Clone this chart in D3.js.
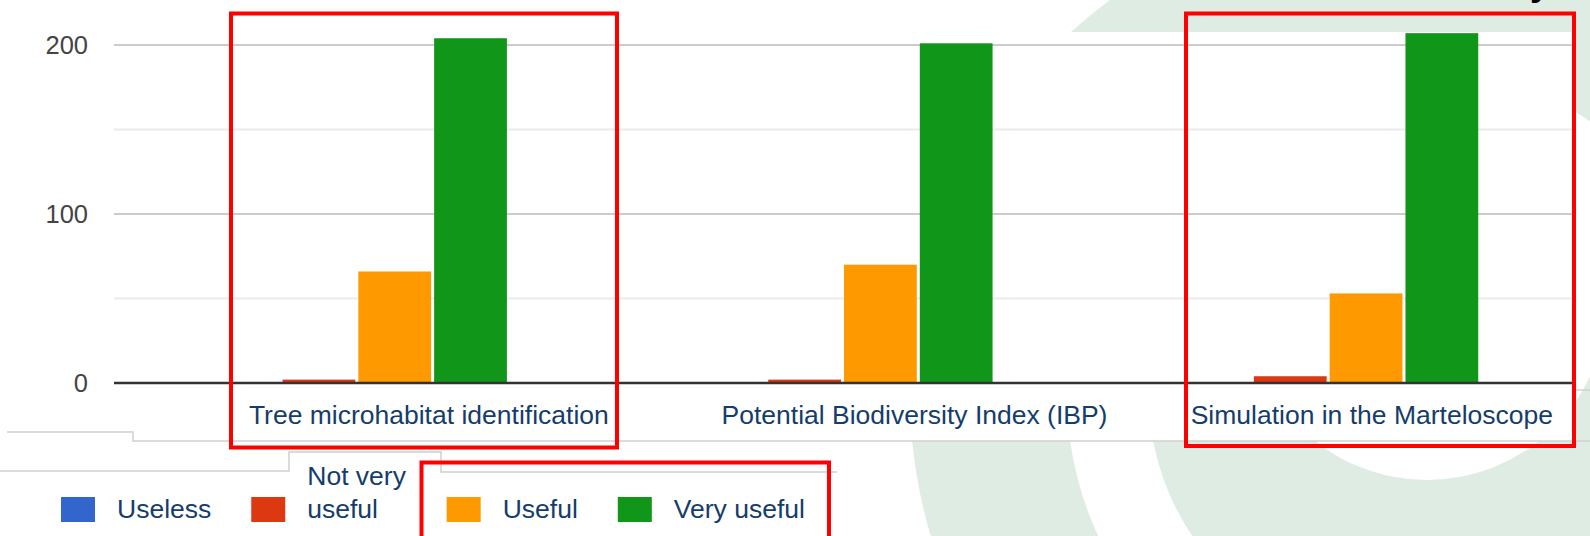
<!DOCTYPE html>
<html>
<head>
<meta charset="utf-8">
<script src="https://cdn.jsdelivr.net/npm/d3@7"></script>
<style>
  html, body { margin: 0; padding: 0; background: #fff; }
  svg { display: block; font-family: "Liberation Sans", Arial, sans-serif; }
</style>
</head>
<body>
<svg id="chart" width="1590" height="536"></svg>
<script>
'use strict';

// data
const categories = ['Tree microhabitat identification', 'Potential Biodiversity Index (IBP)', 'Simulation in the Marteloscope'];
const seriesNames = ['Useless', 'Not very useful', 'Useful', 'Very useful'];
const useless = [0, 0, 0];
const notVeryUseful = [2, 2, 4];
const useful = [66, 70, 53];
const veryUseful = [204, 201, 207];
const yTickLabels = [0, 100, 200];
const minorTicks = [50, 150];

const colors = ['#3366cc', '#dc3912', '#ff9900', '#109618'];
const seriesValues = [useless, notVeryUseful, useful, veryUseful];

const svg = d3.select('#chart');

const plotLeft = 114, plotRight = 1571, plotTop = 45, plotBottom = 383;

// background watermark (slide logo, partly hidden by the chart picture)
const logo = svg.append('g').attr('class', 'logo');
const wm = '#dfece4';
logo.append('circle').attr('cx', 1400).attr('cy', 395).attr('r', 490).attr('fill', wm);
logo.append('circle').attr('cx', 1400).attr('cy', 395).attr('r', 333).attr('fill', '#fff');
logo.append('circle').attr('cx', 1400).attr('cy', 395).attr('r', 251).attr('fill', wm);
logo.append('circle').attr('cx', 1427).attr('cy', 300).attr('r', 180).attr('fill', '#fff');

// the chart picture itself
svg.append('rect')
  .attr('x', 0).attr('y', 32)
  .attr('width', 1573).attr('height', 409)
  .attr('fill', '#fff');

// cut-off title descender at top right
svg.append('text')
  .attr('x', 1530).attr('y', -5)
  .attr('font-size', 36).attr('font-weight', 'bold')
  .attr('fill', '#000')
  .text('y');

const x0 = d3.scaleBand()
  .domain(categories)
  .range([plotLeft, plotRight])
  .paddingInner(0.382)
  .paddingOuter(0.191);

const x1 = d3.scaleBand()
  .domain(seriesNames)
  .range([0, x0.bandwidth()])
  .paddingInner(0.04);

const y = d3.scaleLinear()
  .domain([0, 200])
  .range([plotBottom, plotTop]);

// gridlines
const grid = svg.append('g').attr('class', 'grid');
grid.selectAll('line.minor')
  .data(minorTicks)
  .enter().append('line')
    .attr('class', 'minor')
    .attr('x1', plotLeft).attr('x2', 1573)
    .attr('y1', d => y(d)).attr('y2', d => y(d))
    .attr('stroke', '#ebebeb').attr('stroke-width', 2);
grid.selectAll('line.major')
  .data(yTickLabels.filter(d => d !== 0))
  .enter().append('line')
    .attr('class', 'major')
    .attr('x1', plotLeft).attr('x2', 1573)
    .attr('y1', d => y(d)).attr('y2', d => y(d))
    .attr('stroke', '#cccccc').attr('stroke-width', 2);

// y axis labels
const yAxis = d3.axisLeft(y)
  .tickValues(yTickLabels)
  .tickSize(0)
  .tickPadding(0);
const yAxisG = svg.append('g')
  .attr('transform', 'translate(88,0)')
  .call(yAxis);
yAxisG.select('.domain').remove();
yAxisG.selectAll('text')
  .attr('font-size', 25.5)
  .attr('font-family', '"Liberation Sans", Arial, sans-serif')
  .attr('fill', '#444');

// bars
const groups = svg.append('g').attr('class', 'bars')
  .selectAll('g')
  .data(categories)
  .enter().append('g')
    .attr('transform', d => `translate(${x0(d)},0)`);

groups.selectAll('rect')
  .data((c, i) => seriesNames.map((s, j) => ({ series: s, value: seriesValues[j][i], color: colors[j] })))
  .enter().append('rect')
    .attr('x', d => x1(d.series))
    .attr('width', x1.bandwidth())
    .attr('y', d => y(d.value))
    .attr('height', d => y(0) - y(d.value))
    .attr('fill', d => d.color);

// baseline
svg.append('line')
  .attr('x1', plotLeft).attr('x2', 1573)
  .attr('y1', y(0)).attr('y2', y(0))
  .attr('stroke', '#333').attr('stroke-width', 2.5);

// category labels (shifted right, kept inside the chart)
const catLabels = svg.append('g').attr('class', 'cats')
  .selectAll('text')
  .data(categories)
  .enter().append('text')
    .attr('y', 424)
    .attr('text-anchor', 'middle')
    .attr('font-size', 26.5)
    .attr('fill', '#153d6b')
    .text(d => d);
catLabels.each(function(d) {
  const w = this.getComputedTextLength();
  const cx = Math.min(x0(d) + x0.bandwidth() / 2 + 72, plotRight - 18 - w / 2);
  d3.select(this).attr('x', cx);
});

// edges of the pasted pictures
const edges = svg.append('g').attr('fill', 'none').attr('stroke', '#d0d0d0').attr('stroke-width', 1.5);
edges.append('path').attr('d', 'M7,432H133V441H1590');
edges.append('path').attr('d', 'M0,471H289V452H441V472H837');
edges.append('path').attr('d', 'M1573,390H1590');

// legend
const legend = svg.append('g').attr('class', 'legend');
let lx = 61;
seriesNames.forEach((name, i) => {
  legend.append('rect')
    .attr('x', lx).attr('y', 497)
    .attr('width', 34).attr('height', 25)
    .attr('fill', colors[i]);
  const lines = name === 'Not very useful' ? ['Not very', 'useful'] : [name];
  const t = legend.append('text')
    .attr('x', lx + 56)
    .attr('font-size', 26.5)
    .attr('fill', '#153d6b');
  lines.forEach((ln, k) => {
    t.append('tspan')
      .attr('x', lx + 56)
      .attr('y', 518 - (lines.length - 1 - k) * 33)
      .text(ln);
  });
  lx += 56 + t.node().getBBox().width + 40;
});

// red highlight boxes drawn on the slide
const boxes = svg.append('g').attr('fill', 'none').attr('stroke', '#ff0000').attr('stroke-width', 4);
boxes.append('rect').attr('x', 231).attr('y', 13.5).attr('width', 386).attr('height', 434);
boxes.append('rect').attr('x', 1186).attr('y', 13.5).attr('width', 388).attr('height', 432.5);
boxes.append('rect').attr('x', 421.5).attr('y', 462.5).attr('width', 407.5).attr('height', 80);
</script>
</body>
</html>
